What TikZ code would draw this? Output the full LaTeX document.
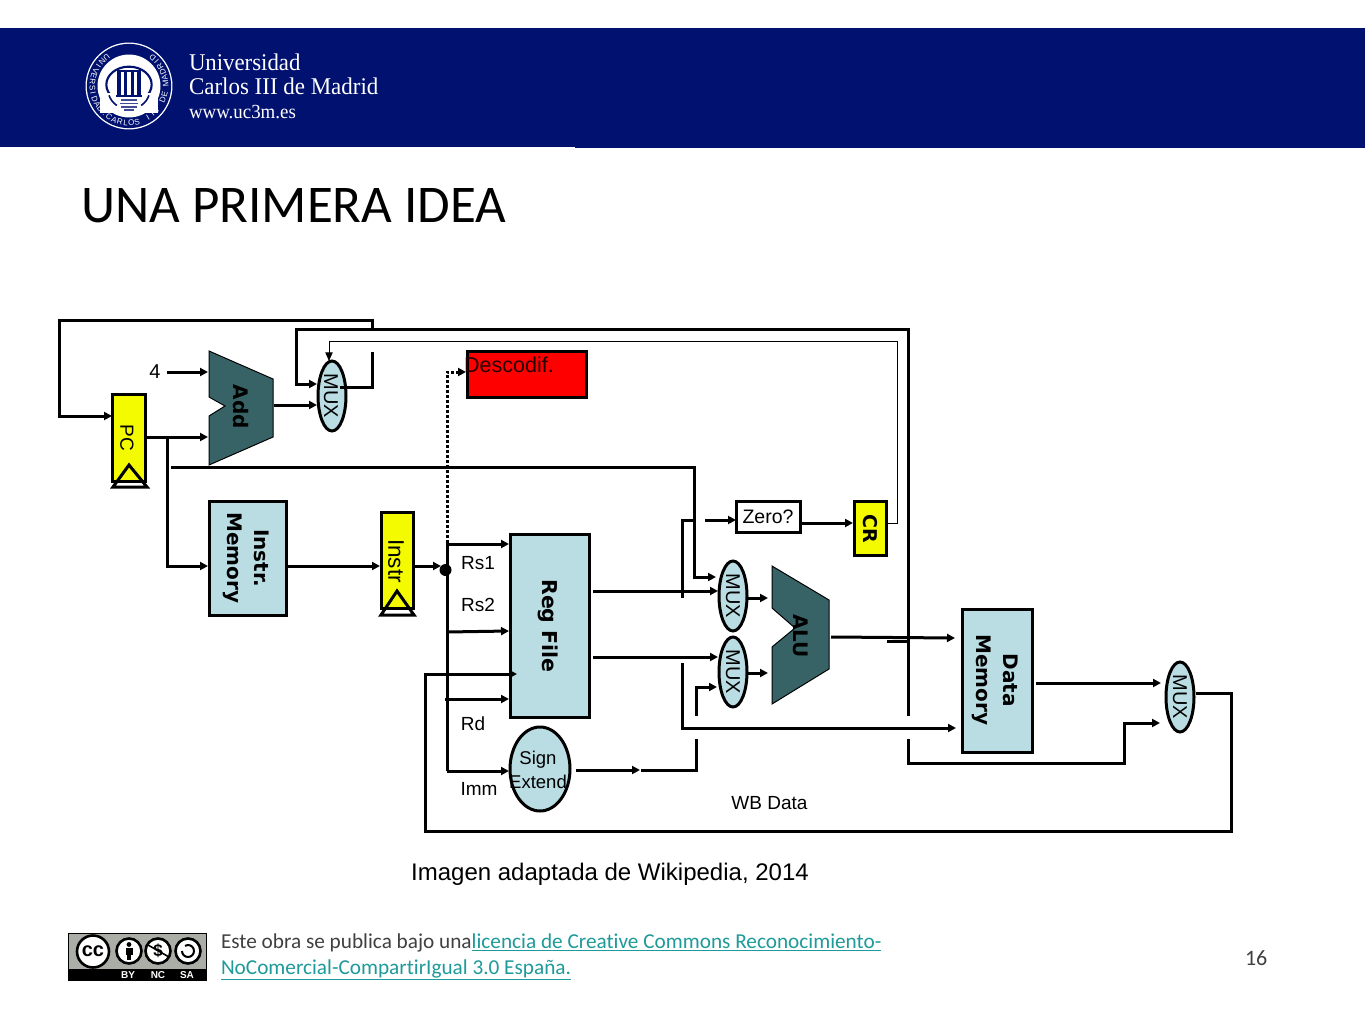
\documentclass[tikz,border=0pt]{standalone}
\usepackage{fontspec}
\usepackage{graphicx}
\usetikzlibrary{arrows.meta,shapes.geometric}
\setmainfont{Liberation Sans}
\newfontfamily\calfont[Ligatures=CommonOff]{Carlito}
\newfontfamily\serfont{Liberation Serif}
\newfontfamily\bldfont[BoldFont={DejaVu Sans Bold}]{DejaVu Sans}
\newlength\px \setlength\px{0.75pt}
\newcommand\pxfont[1]{\fontsize{\fpeval{#1*0.75}}{\fpeval{#1*0.9}}\selectfont}
\newcommand\rot[1]{\rotatebox{-90}{#1}}
\newcommand\twolines[2]{\rotatebox{-90}{\begin{tabular}{@{}c@{}}#1\\[2pt]#2\end{tabular}}}
\definecolor{navyband}{HTML}{00116F}
\definecolor{lightblock}{HTML}{B9DDE3}
\definecolor{darkblock}{HTML}{386366}
\definecolor{regyellow}{HTML}{F4FA00}
\definecolor{linkteal}{HTML}{1F9A9A}
\definecolor{footgray}{HTML}{404040}
\definecolor{ccgray}{HTML}{AAAEA7}
\tikzset{
  wire/.style={line width=3\px,draw=black},
  thin wire/.style={line width=1\px,draw=black},
  arr/.style={-{Triangle[length=6pt,width=6pt]}},
  thinarr/.style={-{Triangle[length=6.5pt,width=5.5pt]}},
  blockbox/.style={draw=black,line width=3\px,rectangle,inner sep=0pt,outer sep=0pt,fill=lightblock},
  regbox/.style={blockbox,fill=regyellow},
  muxnode/.style={draw=black,line width=3\px,ellipse,inner sep=0pt,outer sep=0pt,fill=lightblock,minimum width=28\px,minimum height=70\px},
  lab/.style={inner sep=0pt,outer sep=0pt,font=\pxfont{19}},
  muxlab/.style={inner sep=0pt,outer sep=0pt,font=\pxfont{20}},
  bold lab/.style={inner sep=0pt,outer sep=0pt,font=\bldfont\bfseries\pxfont{20}},
  alupoly/.style={fill=darkblock,draw=black,line width=1\px},
  clock/.style={draw=black,line width=3\px,line join=miter},
  ccring/.style={draw=black,line width=2.6\px,fill=white},
  logotext/.style={inner sep=0pt,outer sep=0pt,anchor=base west,text=white},
  foot/.style={inner sep=0pt,outer sep=0pt,anchor=base west,text=footgray,font=\calfont\pxfont{21.25}}
}
\begin{document}
\begin{tikzpicture}[x=0.75pt,y=-0.75pt]
\useasboundingbox (0,0) rectangle (1365,1024);
\fill[white] (0,0) rectangle (1365,1024);
% header band
\fill[navyband] (0,28) rectangle (1365,147);
\fill[navyband] (575,147) rectangle (1365,148.5);
% logo
\begin{scope}[shift={(129,86)},x=1pt,y=1pt]
  \fill[white] (0,0) circle (32.6pt);
  \fill[navyband] (0,0) circle (31.6pt);
  \fill[white] (0,0) circle (23.6pt);
  \foreach \ch [count=\i] in {U,N,I,V,E,R,S,I,D,A,D,{:},C,A,R,L,O,S,{},I,I,I,{},D,E,{},M,A,D,R,I,D}{
    \pgfmathsetmacro\ang{128+(\i-1)*9.1}
    \node[inner sep=0pt,text=white,font=\pxfont{8},rotate=\ang+90] at (\ang:27.5pt) {\ch};
  }
  \draw[navyband,line width=1.6pt] (0,1pt) ellipse (17pt and 13.5pt);
  \fill[white] (-22pt,-5pt) rectangle (22pt,-20pt);
  \draw[navyband,line width=1.2pt] (-15pt,-7pt) arc[start angle=200,end angle=235,radius=16pt];
  \draw[navyband,line width=1.2pt] (15pt,-7pt) arc[start angle=-20,end angle=-55,radius=16pt];
  \fill[navyband] (-9pt,10.5pt) rectangle (9pt,12pt);
  \foreach \cx in {-7.5,-2.5,2.5,7.5}{\fill[navyband] (\cx pt-1.2pt,10.5pt) rectangle (\cx pt+1.2pt,-7pt);}
  \fill[navyband] (-10pt,-6.5pt) rectangle (10pt,-8pt);
  \foreach \ly/\lw in {-10/6,-12.5/7,-15/6,-17.5/4}{\fill[navyband!75!white] (-\lw pt,\ly pt) rectangle (\lw pt,\ly pt-1.3pt);}
\end{scope}
\node[logotext,font=\serfont\pxfont{24}] (logoA) at (189,71) {\scalebox{0.95}[1]{Universidad}};
\node[logotext,font=\serfont\pxfont{24}] (logoB) at (189,94) {\scalebox{0.957}[1]{Carlos III de Madrid}};
\node[logotext,font=\serfont\pxfont{20}] (logoC) at (189,118) {\scalebox{0.945}[1]{www.uc3m.es}};
% title
\node[inner sep=0pt,anchor=base west,font=\calfont\pxfont{53}] (title) at (81,222.5) {UNA PRIMERA IDEA};

% blocks
\node[regbox,minimum width=33\px,minimum height=87\px] (pc) at (129,437.5) {};
\node[blockbox,minimum width=77\px,minimum height=114\px] (imem) at (247.5,558) {};
\node[regbox,minimum width=32\px,minimum height=96\px] (instr) at (397,560) {};
\node[blockbox,minimum width=79\px,minimum height=183\px] (regf) at (550,625.5) {};
\node[blockbox,ellipse,minimum width=60\px,minimum height=84\px] (sext) at (540,769) {};
\node[blockbox,fill=red,minimum width=119\px,minimum height=46\px] (desc) at (527,374) {};
\node[blockbox,fill=white,minimum width=64\px,minimum height=31\px] (zero) at (768.5,517) {};
\node[regbox,minimum width=32\px,minimum height=54\px] (cr) at (870.5,528.5) {};
\node[blockbox,minimum width=70\px,minimum height=143\px] (dmem) at (997.5,681) {};
\node[muxnode] (mux1) at (332,396) {};
\node[muxnode] (mux2) at (733,596) {};
\node[muxnode] (mux3) at (733,672) {};
\node[muxnode] (mux4) at (1180,697) {};
% adder and ALU
\draw[alupoly] (209,351) -- (273,379) -- (273,437) -- (209,465) -- (209,416) -- (225,406) -- (209,397) -- cycle;
\draw[alupoly] (772,566) -- (829,600) -- (829,669) -- (772,704) -- (772,647) -- (795,628) -- (772,608) -- cycle;
% clock triangles
\draw[clock] (129,465) -- (147,487) -- (113,487) -- cycle;
\draw[clock] (397,591) -- (414,615) -- (381,615) -- cycle;

% coordinates of free ends and corners
\coordinate (aA) at (372,329); \coordinate (aB) at (372,320); \coordinate (aC) at (59,320); \coordinate (aD) at (59,416); \coordinate (aE) at (112,416);
\coordinate (bA) at (908,716); \coordinate (bB) at (908,329); \coordinate (bC) at (296,329); \coordinate (bD) at (296,384); \coordinate (bE) at (317,384);
\coordinate (cA) at (372,352); \coordinate (cB) at (372,387); \coordinate (cC) at (340,387);
\coordinate (dA) at (887,523); \coordinate (dB) at (897,523); \coordinate (dC) at (897,341); \coordinate (dD) at (329,341); \coordinate (dE) at (329,361);
\coordinate (fourA) at (167,372); \coordinate (fourB) at (208,372);
\coordinate (eA) at (274,405); \coordinate (eB) at (317,405);
\coordinate (pA) at (146,437); \coordinate (pB) at (208,437); \coordinate (pC) at (167,437); \coordinate (pD) at (167,566); \coordinate (pE) at (208,566);
\coordinate (gA) at (171,467); \coordinate (gB) at (694,467); \coordinate (gC) at (694,577); \coordinate (gD) at (716,577);
\coordinate (hA) at (286,566); \coordinate (hB) at (380,566);
\coordinate (iA) at (413,566); \coordinate (iB) at (441,566);
\coordinate (jA) at (447,545); \coordinate (jB) at (447,771); \coordinate (jC) at (509,544); \coordinate (jD) at (509,771);
\coordinate (kA) at (447,632); \coordinate (kB) at (509,631);
\coordinate (lA) at (445,699); \coordinate (lB) at (509,699);
\coordinate (mA) at (447,543); \coordinate (mB) at (447,372); \coordinate (mC) at (466,372);
\coordinate (nA) at (1196,693); \coordinate (nB) at (1231,693); \coordinate (nC) at (1231,831); \coordinate (nD) at (425,831); \coordinate (nE) at (425,674); \coordinate (nF) at (517,674);
\coordinate (oA) at (705,520); \coordinate (oB) at (736,520);
\coordinate (qA) at (801,523); \coordinate (qB) at (853,523);
\coordinate (rA) at (694,520); \coordinate (rB) at (682,520); \coordinate (rC) at (682,598);
\coordinate (sA) at (682,663); \coordinate (sB) at (682,728); \coordinate (sC) at (956,728);
\coordinate (tA) at (593,591); \coordinate (tB) at (718,591);
\coordinate (uA) at (593,657); \coordinate (uB) at (718,657);
\coordinate (vA) at (748,598); \coordinate (vB) at (768,598);
\coordinate (wA) at (748,673); \coordinate (wB) at (768,673);
\coordinate (xA) at (831,637); \coordinate (xB) at (955,638);
\coordinate (yA) at (887,641); \coordinate (yB) at (908,641);
\coordinate (zA) at (908,739); \coordinate (zB) at (908,763); \coordinate (zC) at (1124,763); \coordinate (zD) at (1124,723); \coordinate (zE) at (1160,723);
\coordinate (AA) at (1036,683); \coordinate (AB) at (1161,683);
\coordinate (BA) at (696,716); \coordinate (BB) at (696,687); \coordinate (BC) at (717,687);
\coordinate (CA) at (696,739); \coordinate (CB) at (696,770); \coordinate (CC) at (641,770);
\coordinate (DA) at (576,770); \coordinate (DB) at (640,770);

% connectors
\draw[wire,arr] (aA) -- (aB) -- (aC) -- (aD) -- (aE);
\draw[wire,arr] (bA) -- (bB) -- (bC) -- (bD) -- (bE);
\draw[wire] (cA) -- (cB) -- (cC);
\draw[thin wire,thinarr] (dA) -- (dB) -- (dC) -- (dD) -- (dE);
\draw[wire,arr] (fourA) -- (fourB);
\draw[wire,arr] (eA) -- (eB);
\draw[wire,arr] (pA) -- (pB);
\draw[wire,arr] (pC) -- (pD) -- (pE);
\draw[wire,arr] (gA) -- (gB) -- (gC) -- (gD);
\draw[wire,arr] (hA) -- (hB);
\draw[wire,arr] (iA) -- (iB);
\draw[wire,arr] (jB) -- (jA |- jC) -- (jC);
\draw[wire,arr] (jB) -- (jD);
\draw[wire,arr] (kA) -- (kB);
\draw[wire,arr] (lA) -- (lB);
\draw[line width=3\px,dash pattern=on 3\px off 2\px,arr] (mA) -- (mB) -- (mC);
\draw[wire,arr] (nA) -- (nB) -- (nC) -- (nD) -- (nE) -- (nF);
\draw[wire,arr] (oA) -- (oB);
\draw[wire,arr] (qA) -- (qB);
\draw[wire] (rA) -- (rB) -- (rC);
\draw[wire,arr] (sA) -- (sB) -- (sC);
\draw[wire,arr] (tA) -- (tB);
\draw[wire,arr] (uA) -- (uB);
\draw[wire,arr] (vA) -- (vB);
\draw[wire,arr] (wA) -- (wB);
\draw[wire,arr] (xA) -- (xB);
\draw[wire] (yA) -- (yB);
\draw[wire,arr] (zA) -- (zB) -- (zC) -- (zD) -- (zE);
\draw[wire,arr] (AA) -- (AB);
\draw[wire,arr] (BA) -- (BB) -- (BC);
\draw[wire] (CA) -- (CB) -- (CC);
\draw[wire,arr] (DA) -- (DB);
\fill[black] (445.5,570) circle (6);

% labels
\node[lab,font=\pxfont{20}] (four) at (155,372) {4};
\node[lab] (pctxt) at (127,438) {\rot{PC}};
\node[bold lab] (addtxt) at (240.5,407) {\rot{Add}};
\node[muxlab] (mux1t) at (331,396) {\rot{MUX}};
\node[bold lab] (imemt) at (246,558) {\twolines{Instr.}{Memory}};
\node[lab,font=\pxfont{22.5}] (instrt) at (396,561) {\rot{Instr}};
\node[bold lab,font=\bldfont\bfseries\pxfont{20.5}] (regft) at (548,626) {\rot{Reg File}};
\node[lab,font=\pxfont{21.5},text=black!85!red] (desct) at (509,365) {Descodif.};
\node[lab] (t1) at (478,563) {Rs1};
\node[lab] (t2) at (478,605) {Rs2};
\node[lab] (t3) at (473,724) {Rd};
\node[lab] (t4) at (479,789) {Imm};
\node[lab,align=center,font=\pxfont{18.5}] (sextt) at (538,770) {Sign\\[1pt]Extend};
\node[lab,font=\pxfont{19.5}] (zerot) at (768,517) {Zero?};
\node[bold lab,font=\bldfont\bfseries\pxfont{19}] (crt) at (870,529) {\rot{CR}};
\node[muxlab] (mux2t) at (733,596) {\rot{MUX}};
\node[muxlab] (mux3t) at (733,672) {\rot{MUX}};
\node[muxlab] (mux4t) at (1180,697) {\rot{MUX}};
\node[bold lab] (alut) at (801,636) {\rot{ALU}};
\node[bold lab] (dmemt) at (995,680) {\twolines{Data}{Memory}};
\node[lab] (wb) at (769.5,803.5) {WB Data};
\node[lab,font=\pxfont{24}] (cap) at (610,874) {Imagen adaptada de Wikipedia, 2014};

% licence badge
\fill[ccgray,draw=black,line width=1.5\px] (68.5,933.5) rectangle (206.5,980.5);
\fill[black] (68,969) rectangle (207,981);
\node[circle,ccring,minimum size=32\px,inner sep=0pt,font=\bfseries\pxfont{20}] (cc) at (93,951.5) {\raisebox{1pt}{cc}};
\node[circle,ccring,minimum size=25\px,inner sep=0pt] (by) at (129,951) {};
\node[circle,ccring,minimum size=25\px,inner sep=0pt,font=\bfseries\pxfont{17}] (nc) at (158,951) {\$};
\node[circle,ccring,minimum size=25\px,inner sep=0pt] (sa) at (188,951) {};
\fill[black] (129,944.5) circle (2.4);
\fill[black] (125.5,948) rectangle (132.5,955);
\fill[black] (127,955) rectangle (131,960);
\draw[black,line width=1.6\px] (148,945) -- (169,957);
\draw[black,line width=2\px] (182,951) arc[start angle=180,end angle=-120,radius=6];
\node[inner sep=0pt,text=white,font=\bfseries\pxfont{10}] (byt) at (128,975) {BY};
\node[inner sep=0pt,text=white,font=\bfseries\pxfont{10}] (nct) at (158,975) {NC};
\node[inner sep=0pt,text=white,font=\bfseries\pxfont{10}] (sat) at (187,975) {SA};
% footer
\node[foot] (f1) at (221,948) {Este obra se publica bajo una\textcolor{linkteal}{\underline{licencia de Creative Commons Reconocimiento-}}};
\node[foot] (f2) at (221,974) {\textcolor{linkteal}{\underline{NoComercial-CompartirIgual 3.0 España.}}};
\node[foot,font=\calfont\pxfont{22}] (num) at (1245,965) {16};
\end{tikzpicture}
\end{document}
